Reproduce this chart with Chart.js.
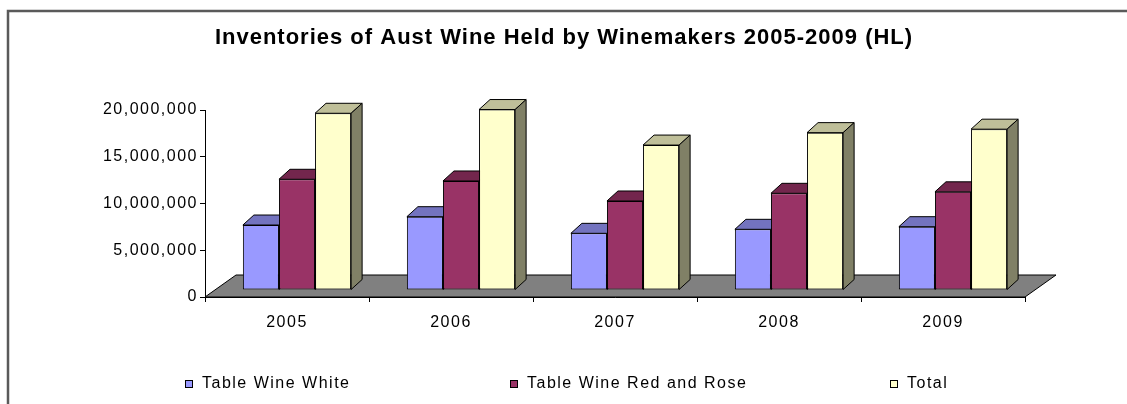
<!DOCTYPE html>
<html>
<head>
<meta charset="utf-8">
<script src="https://cdn.jsdelivr.net/npm/chart.js@4.4.0/dist/chart.umd.min.js"></script>
<style>
  html, body { margin: 0; padding: 0; background: #fff; }
  #chart { display: block; }
</style>
</head>
<body>
<canvas id="chart" width="1127" height="404"></canvas>
<script>
// values (hectolitres)
const years = ['2005', '2006', '2007', '2008', '2009'];
const tableWineWhite = [6950000, 7840000, 6060000, 6490000, 6770000];
const tableWineRedRose = [11840000, 11660000, 9520000, 10340000, 10500000];
const totalWine = [18900000, 19300000, 15500000, 16830000, 17200000];
const seriesNames = ['Table Wine White', 'Table Wine Red and Rose', 'Total'];
const yMax = 20000000;
const yStep = 5000000;

const titleText = 'Inventories of Aust Wine Held by Winemakers 2005-2009 (HL)';
const seriesColors = ['#9999FF', '#993366', '#FFFFCC'];
const font = "'Liberation Sans', Arial, sans-serif";

const barDepth = { x: 11, y: -10 };
const barShift = { x: 10, y: -7 };
const floorDepth = { x: 31, y: -22 };
const legendX = [185, 510, 890];

function shade(hex, f) {
  const n = parseInt(hex.slice(1), 16);
  const r = Math.round(((n >> 16) & 255) * f);
  const g = Math.round(((n >> 8) & 255) * f);
  const b = Math.round((n & 255) * f);
  return `rgb(${r},${g},${b})`;
}

function poly(ctx, pts, fill) {
  ctx.beginPath();
  ctx.moveTo(pts[0][0], pts[0][1]);
  pts.slice(1).forEach((p) => ctx.lineTo(p[0], p[1]));
  ctx.closePath();
  ctx.fillStyle = fill;
  ctx.fill();
  ctx.stroke();
}

const excel3d = {
  id: 'excel3d',
  beforeDraw(chart) {
    const ctx = chart.ctx;
    // axis labels in the old Excel look are a little spread out
    ctx.letterSpacing = '1.5px';
    ctx.save();
    ctx.strokeStyle = '#5a5a5a';
    ctx.lineWidth = 2.5;
    ctx.strokeRect(8, 11, 1300, 600);
    ctx.restore();
  },
  beforeDatasetsDraw(chart) {
    const ctx = chart.ctx;
    const a = chart.chartArea;
    ctx.save();
    ctx.strokeStyle = '#000';
    ctx.lineWidth = 1;
    poly(ctx, [
      [a.left, a.bottom],
      [a.right, a.bottom],
      [a.right + floorDepth.x, a.bottom + floorDepth.y],
      [a.left + floorDepth.x, a.bottom + floorDepth.y],
    ], '#808080');
    ctx.restore();
  },
  beforeDatasetDraw() {
    // bars are drawn below, left to right, so the faces overlap the right way
    return false;
  },
  afterDatasetsDraw(chart) {
    const ctx = chart.ctx;
    ctx.save();
    ctx.translate(barShift.x, barShift.y);
    chart.data.datasets.forEach((ds, i) => {
      const meta = chart.getDatasetMeta(i);
      meta.data.forEach((bar) => {
        bar.draw(ctx);
        const { x, y, base, width } = bar.getProps(['x', 'y', 'base', 'width'], true);
        const l = x - width / 2;
        const r = x + width / 2;
        const dx = barDepth.x;
        const dy = barDepth.y;
        ctx.strokeStyle = '#000';
        ctx.lineWidth = 1;
        poly(ctx, [[l, y], [r, y], [r + dx, y + dy], [l + dx, y + dy]], shade(ds.backgroundColor, 0.75));
        poly(ctx, [[r, y], [r + dx, y + dy], [r + dx, base + dy], [r, base]], shade(ds.backgroundColor, 0.5));
      });
    });
    ctx.restore();
  },
  afterDraw(chart) {
    const ctx = chart.ctx;
    ctx.save();
    ctx.fillStyle = '#000';
    ctx.textAlign = 'center';
    ctx.textBaseline = 'middle';
    ctx.letterSpacing = '1px';
    ctx.font = `bold 22px ${font}`;
    ctx.fillText(titleText, 564, 38);

    ctx.letterSpacing = '1.5px';
    ctx.font = `16px ${font}`;
    ctx.textAlign = 'left';
    ctx.strokeStyle = '#000';
    ctx.lineWidth = 1;
    chart.data.datasets.forEach((ds, i) => {
      const x = legendX[i];
      const y = 384;
      ctx.fillStyle = ds.backgroundColor;
      ctx.fillRect(x, y - 4, 8, 8);
      ctx.strokeRect(x + 0.5, y - 3.5, 7, 7);
      ctx.fillStyle = '#000';
      ctx.fillText(ds.label, x + 17, y);
    });
    ctx.restore();
  },
};

new Chart('chart', {
  type: 'bar',
  data: {
    labels: years,
    datasets: [
      { label: seriesNames[0], data: tableWineWhite, backgroundColor: seriesColors[0] },
      { label: seriesNames[1], data: tableWineRedRose, backgroundColor: seriesColors[1] },
      { label: seriesNames[2], data: totalWine, backgroundColor: seriesColors[2] },
    ],
  },
  options: {
    responsive: false,
    animation: false,
    devicePixelRatio: 1,
    layout: { padding: { top: 110, right: 102, bottom: 67, left: 0 } },
    datasets: {
      bar: {
        borderColor: '#000',
        borderWidth: 1,
        borderSkipped: false,
        categoryPercentage: 0.66,
        barPercentage: 1,
      },
    },
    plugins: {
      legend: { display: false },
      title: { display: false },
      tooltip: { enabled: false },
    },
    scales: {
      x: {
        offset: true,
        grid: { offset: true, drawOnChartArea: false, tickLength: 5, color: '#000' },
        border: { color: '#000' },
        ticks: { color: '#000', font: { family: font, size: 16 }, padding: 11 },
        afterFit: (scale) => { scale.height = 40; },
      },
      y: {
        min: 0,
        max: yMax,
        grid: { drawOnChartArea: false, tickLength: 5, color: '#000' },
        border: { color: '#000' },
        ticks: {
          stepSize: yStep,
          color: '#000',
          font: { family: font, size: 16 },
          padding: 2,
          callback: (v) => v.toLocaleString('en-US'),
        },
        afterFit: (scale) => { scale.width = 205; },
      },
    },
  },
  plugins: [excel3d],
});
</script>
</body>
</html>
